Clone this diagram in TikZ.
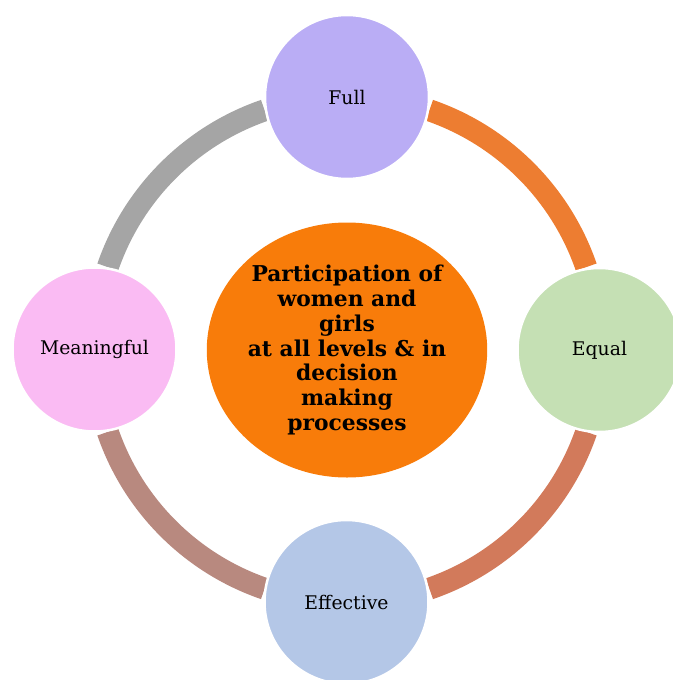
\documentclass[tikz,border=0pt]{standalone}
\usepackage{fontspec}
\setmainfont{DejaVu Serif}
\definecolor{arcTR}{HTML}{ED7D31}
\definecolor{arcBR}{HTML}{D27A5B}
\definecolor{arcBL}{HTML}{B8897F}
\definecolor{arcTL}{HTML}{A5A5A5}
\definecolor{cFull}{HTML}{BAADF5}
\definecolor{cEqual}{HTML}{C5E0B4}
\definecolor{cEff}{HTML}{B4C7E7}
\definecolor{cMean}{HTML}{FABBF3}
\definecolor{cCenter}{HTML}{F87C0A}
\begin{document}
\begin{tikzpicture}[x=1pt,y=-1pt,
  ringarc/.style={line width=22pt},
  outer/.style={circle, minimum size=164pt, inner sep=0pt, draw=white, line width=2.5pt, font=\fontsize{18.8}{22}\selectfont},
  centre/.style={ellipse, minimum width=280pt, minimum height=255pt, inner sep=0pt, fill=cCenter, align=center,
     font=\fontsize{21.8}{24.7}\selectfont\bfseries}]
\usetikzlibrary{shapes.geometric}
\useasboundingbox (0,0) rectangle (672,680);
\coordinate (O) at (347,349.5);
\draw[ringarc, arcTR] (O) ++(-71:253) arc[start angle=-71, end angle=-19, radius=253];
\draw[ringarc, arcBR] (O) ++(19:253) arc[start angle=19, end angle=71, radius=253];
\draw[ringarc, arcBL] (O) ++(109:253) arc[start angle=109, end angle=161, radius=253];
\draw[ringarc, arcTL] (O) ++(199:253) arc[start angle=199, end angle=251, radius=253];
\node[outer, fill=cFull]  (full)  at (347,97)    {Full};
\node[outer, fill=cEqual] (equal) at (599.5,350) {Equal};
\node[outer, fill=cEff]   (eff)   at (346.5,602) {Effective};
\node[outer, fill=cMean]  (mean)  at (94.5,349.5) {Meaningful};
\node[centre] (ctr) at (347,350) {Participation of\\women and\\girls\\at all levels \& in\\decision\\making\\processes};
\end{tikzpicture}
\end{document}
